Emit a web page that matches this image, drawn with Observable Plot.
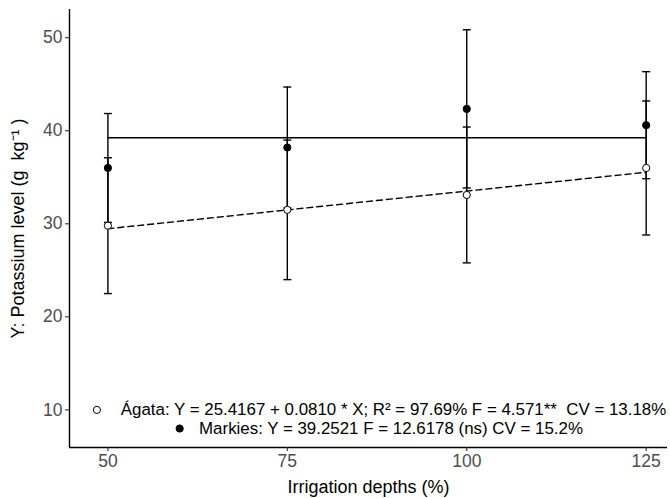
<!DOCTYPE html>
<html>
<head>
<meta charset="utf-8">
<script src="https://cdn.jsdelivr.net/npm/d3@7"></script>
<script src="https://cdn.jsdelivr.net/npm/@observablehq/plot@0.6"></script>
<style>
  html, body { margin: 0; padding: 0; background: #fff; }
</style>
</head>
<body>
<div id="chart"></div>
<script>
// Data
const depths = [50, 75, 100, 125];
const agataMean = [29.8, 31.5, 33.1, 36.0];
const agataSd = [7.3, 7.5, 7.3, 7.2];
const markiesMean = [36.0, 38.2, 42.35, 40.6];
const markiesSd = [5.85, 6.5, 8.5, 5.75];

// Fitted lines (from the equations in the legend)
const fitX = [50, 125];
const agataFit = [29.47, 35.54];
const markiesFit = [39.25, 39.25];

const xTicks = [50, 75, 100, 125];
const yTicks = [10, 20, 30, 40, 50];

const legendLabels = [
  "Ágata: Y = 25.4167 + 0.0810 * X; R² = 97.69% F = 4.571**  CV = 13.18%",
  "Markies: Y = 39.2521 F = 12.6178 (ns) CV = 15.2%"
];
const legendSymbolX = [48.47, 60.0];
const legendTextX = [51.8, 62.7];
const legendY = [10, 8.0];
const legendFill = ["white", "black"];

const xLabel = "Irrigation depths (%)";
const yLabel = "Y: Potassium level (g  kg⁻¹ )";

const xDomain = [44.65, 127.97];
const yDomain = [5.96, 53.03];

// Build tables
const agata = depths.map((d, i) => ({x: d, y: agataMean[i], lo: agataMean[i] - agataSd[i], hi: agataMean[i] + agataSd[i]}));
const markies = depths.map((d, i) => ({x: d, y: markiesMean[i], lo: markiesMean[i] - markiesSd[i], hi: markiesMean[i] + markiesSd[i]}));
const bars = agata.concat(markies);
const agataLine = fitX.map((d, i) => ({x: d, y: agataFit[i]}));
const markiesLine = fitX.map((d, i) => ({x: d, y: markiesFit[i]}));
const legend = legendLabels.map((t, i) => ({t, sx: legendSymbolX[i], tx: legendTextX[i], y: legendY[i], fill: legendFill[i]}));

const cap = {
  draw(context, size) {
    context.moveTo(-4, 0);
    context.lineTo(4, 0);
  }
};

const font = "'Liberation Sans', Arial, Helvetica, sans-serif";

const plot = Plot.plot({
  width: 670,
  height: 498,
  marginLeft: 69,
  marginRight: 3,
  marginTop: 9,
  marginBottom: 51,
  style: {fontFamily: font, background: "white"},
  x: {domain: xDomain},
  y: {domain: yDomain},
  marks: [
    Plot.ruleX([xDomain[0]], {stroke: "black", strokeWidth: 1.4}),
    Plot.ruleY([yDomain[0]], {stroke: "black", strokeWidth: 1.4}),
    Plot.axisX({ticks: xTicks, tickSize: 4, tickPadding: 3, fontSize: 17.5, stroke: "#333", fill: "#4D4D4D", label: null, strokeWidth: 1.1}),
    Plot.axisY({ticks: yTicks, tickSize: 4, tickPadding: 3, fontSize: 17.5, stroke: "#333", fill: "#4D4D4D", label: null, strokeWidth: 1.1}),
    Plot.text([xLabel], {frameAnchor: "bottom", dy: 40, fontSize: 18, fill: "black", lineAnchor: "middle", textAnchor: "middle"}),
    Plot.text([yLabel], {frameAnchor: "left", dx: -51, rotate: -90, fontSize: 18, fill: "black", lineAnchor: "middle", textAnchor: "middle"}),
    // error bars
    Plot.ruleX(bars, {x: "x", y1: "lo", y2: "hi", stroke: "black", strokeWidth: 1.4}),
    Plot.dot(bars, {x: "x", y: "hi", symbol: cap, stroke: "black", strokeWidth: 1.4, r: 4}),
    Plot.dot(bars, {x: "x", y: "lo", symbol: cap, stroke: "black", strokeWidth: 1.4, r: 4}),
    // fitted lines
    Plot.line(markiesLine, {x: "x", y: "y", stroke: "black", strokeWidth: 1.4}),
    Plot.line(agataLine, {x: "x", y: "y", stroke: "black", strokeWidth: 1.4, strokeDasharray: "6,4"}),
    // points
    Plot.dot(agata, {x: "x", y: "y", r: 3.6, fill: "white", stroke: "black", strokeWidth: 1}),
    Plot.dot(markies, {x: "x", y: "y", r: 3.6, fill: "black", stroke: "black", strokeWidth: 1}),
    // legend annotation
    Plot.dot(legend, {x: "sx", y: "y", r: 3.6, fill: "fill", stroke: "black", strokeWidth: 1}),
    Plot.text(legend, {x: "tx", y: "y", text: "t", textAnchor: "start", fontSize: 16.9, fill: "black", lineAnchor: "middle"})
  ]
});
document.getElementById("chart").appendChild(plot);
</script>
</body>
</html>
